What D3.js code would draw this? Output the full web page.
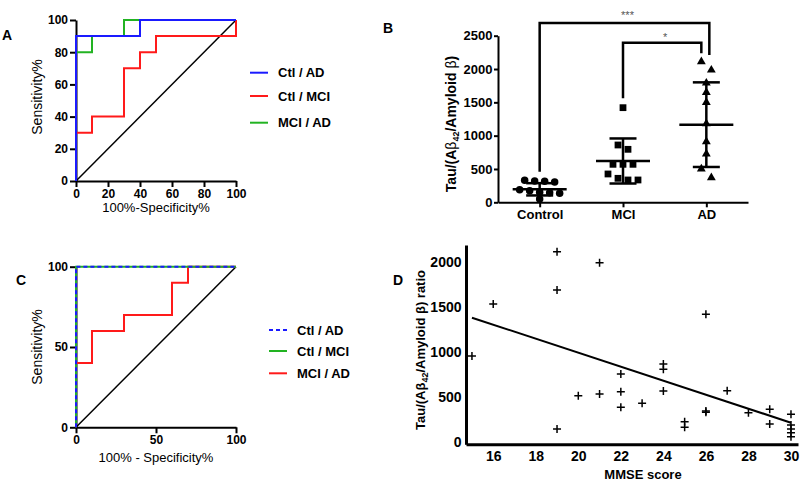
<!DOCTYPE html>
<html lang="en">
<head>
<meta charset="UTF-8">
<title>ROC curves and Tau ratio</title>
<script src="https://d3js.org/d3.v7.min.js"></script>
<style>
  body { margin: 0; background: #fff; }
  svg { display: block; font-family: "Liberation Sans", Arial, sans-serif; }
</style>
</head>
<body>
<svg id="fig" width="800" height="481"></svg>
<script>
// ---- Panel A: ROC steps as [100% - specificity, sensitivity] ----
const rocTicksA = [0, 20, 40, 60, 80, 100];
const aCtlAD  = [[0,0],[0,90],[40,90],[40,100],[100,100]];
const aCtlMCI = [[0,0],[0,30],[10,30],[10,40],[30,40],[30,70],[40,70],[40,80],[50,80],[50,90],[100,90],[100,100]];
const aMCIAD  = [[0,0],[0,80],[10,80],[10,90],[30,90],[30,100],[100,100]];

// ---- Panel C ----
const rocTicksC = [0, 50, 100];
const cCtlAD  = [[0,0],[0,100],[100,100]];
const cCtlMCI = [[0,0],[0,100],[100,100]];
const cMCIAD  = [[0,0],[0,40],[10,40],[10,60],[30,60],[30,70],[60,70],[60,90],[70,90],[70,100],[100,100]];

// ---- Panel B: Tau/(Ab42/Amyloid b) per group ----
const groups = ["Control", "MCI", "AD"];
const controlVals = [330, 320, 315, 305, 190, 175, 150, 145, 135, 50];
const mciVals = [1420, 860, 795, 570, 570, 570, 425, 360, 335, 335];
const adVals = [2110, 1985, 1790, 1650, 1500, 1180, 910, 725, 500, 370];
const groupMean = [195, 620, 1165];
const groupSD = [92, 338, 635];
const bTicks = [0, 500, 1000, 1500, 2000, 2500];
const bracketPairs = [["Control", "AD"], ["MCI", "AD"]];
const bracketLevel = [2690, 2395];
const bracketLegEnds = [[460, 2210], [1560, 2235]];
const bracketLabels = ["***", "*"];

// ---- Panel D: ratio vs MMSE ----
const mmse  = [15, 16, 19, 19, 19, 20, 21, 21, 22, 22, 22, 23, 24, 24, 24, 25, 25, 26, 26, 26, 27, 28, 29, 29, 30, 30, 30, 30, 30];
const ratio = [952, 1530, 2110, 1686, 141, 511, 1990, 530, 752, 556, 382, 426, 863, 804, 563, 222, 160, 1415, 341, 327, 567, 322, 360, 197, 304, 186, 141, 100, 56];
const fitX = [15, 30];
const fitY = [1378, 211];
const dTicksX = [16, 18, 20, 22, 24, 26, 28, 30];
const dTicksY = [0, 500, 1000, 1500, 2000];

const svg = d3.select("#fig");
const plain = d3.format("d");

function styleAxis(g, fontSize, width) {
  g.select(".domain").attr("stroke", "#000").attr("stroke-width", width);
  g.selectAll(".tick line").attr("stroke", "#000").attr("stroke-width", width);
  g.selectAll(".tick text").attr("fill", "#000").attr("font-size", fontSize)
    .attr("font-weight", "bold").attr("font-family", "Liberation Sans, Arial, sans-serif");
}

function panelLetter(t, x, y) {
  svg.append("text").attr("x", x).attr("y", y).attr("font-size", 14)
    .attr("font-weight", "bold").text(t);
}

function rotatedLabel(g, cx, cy) {
  return g.append("text").attr("transform", `translate(${cx},${cy}) rotate(-90)`)
    .attr("text-anchor", "middle").attr("dy", "0.35em");
}

function rocPanel(cfg) {
  const g = svg.append("g");
  const x = d3.scaleLinear().domain([0, 100]).range([cfg.left, cfg.right]);
  const y = d3.scaleLinear().domain([0, 100]).range([cfg.bottom, cfg.top]);
  const line = d3.line().x(d => x(d[0])).y(d => y(d[1]));

  const xa = g.append("g").attr("transform", `translate(0,${cfg.bottom})`)
    .call(d3.axisBottom(x).tickValues(cfg.ticks).tickSize(6).tickSizeOuter(0).tickPadding(2));
  styleAxis(xa, 12, 2);
  const ya = g.append("g").attr("transform", `translate(${cfg.left},0)`)
    .call(d3.axisLeft(y).tickValues(cfg.ticks).tickSize(6).tickSizeOuter(0).tickPadding(2));
  styleAxis(ya, 12, 2);

  g.append("path").attr("d", line([[0, 0], [100, 100]]))
    .attr("fill", "none").attr("stroke", "#000").attr("stroke-width", 1.5);

  cfg.drawOrder.forEach(i => {
    const s = cfg.series[i];
    g.append("path").attr("d", line(s.pts)).attr("fill", "none")
      .attr("stroke", s.color).attr("stroke-width", 2)
      .attr("stroke-dasharray", s.dash || null);
  });

  rotatedLabel(g, 37.5, cfg.yLabelY).attr("font-size", 14).text("Sensitivity%");
  g.append("text").attr("x", (cfg.left + cfg.right) / 2).attr("y", cfg.xLabelY)
    .attr("text-anchor", "middle").attr("font-size", 13).text(cfg.xTitle);

  // legend
  cfg.series.forEach((s, i) => {
    const ly = cfg.legendY[i];
    g.append("line").attr("x1", cfg.legendX).attr("x2", cfg.legendX + 18)
      .attr("y1", ly).attr("y2", ly).attr("stroke", s.color).attr("stroke-width", 2)
      .attr("stroke-dasharray", s.dash || null);
    g.append("text").attr("x", cfg.legendX + 28).attr("y", ly).attr("dy", "0.35em")
      .attr("font-size", 13).attr("font-weight", "bold").text(s.name);
  });
}

const blue = "#1a1aff", red = "#ff1a1a", green = "#22b322";

rocPanel({
  left: 76, right: 236, top: 20, bottom: 181, ticks: rocTicksA,
  series: [
    { name: "Ctl / AD", pts: aCtlAD, color: blue },
    { name: "Ctl / MCI", pts: aCtlMCI, color: red },
    { name: "MCI / AD", pts: aMCIAD, color: green }
  ],
  drawOrder: [1, 2, 0],
  xTitle: "100%-Specificity%", xLabelY: 212, yLabelY: 97,
  legendX: 250, legendY: [72.7, 96, 122.7]
});
panelLetter("A", 2, 40);

rocPanel({
  left: 76, right: 236, top: 266.7, bottom: 427.3, ticks: rocTicksC,
  series: [
    { name: "Ctl / AD", pts: cCtlAD, color: blue, dash: "4,3" },
    { name: "Ctl / MCI", pts: cCtlMCI, color: green },
    { name: "MCI / AD", pts: cMCIAD, color: red }
  ],
  drawOrder: [2, 1, 0],
  xTitle: "100% - Specificity%", xLabelY: 462, yLabelY: 347,
  legendX: 269, legendY: [330, 351, 373.3]
});
panelLetter("C", 16, 285);

// ---- Panel B ----
(function () {
  const g = svg.append("g");
  const x = d3.scalePoint().domain(groups).range([498, 748]).padding(0.5);
  const y = d3.scaleLinear().domain([0, 2500]).range([202.3, 35.7]);

  const xa = g.append("g").attr("transform", "translate(0,202.3)")
    .call(d3.axisBottom(x).tickSize(5).tickSizeOuter(0).tickPadding(2.5));
  styleAxis(xa, 13, 2);
  const ya = g.append("g").attr("transform", "translate(498,0)")
    .call(d3.axisLeft(y).tickValues(bTicks).tickFormat(plain).tickSize(4).tickSizeOuter(0).tickPadding(1.5));
  styleAxis(ya, 13, 2);

  const lab = rotatedLabel(g, 451, 124).attr("font-size", 14).attr("font-weight", "bold");
  lab.append("tspan").text("Tau/(A");
  lab.append("tspan").attr("font-weight", "normal").text("β");
  lab.append("tspan").attr("font-size", 9).attr("dy", 3).text("42");
  lab.append("tspan").attr("dy", -3).text("/Amyloid ");
  lab.append("tspan").attr("font-weight", "normal").text("β");
  lab.append("tspan").text(")");

  // rows of near-equal values are spread side by side, like a scatter dot plot
  function spread(vals) {
    const sorted = vals.slice().sort((a, b) => b - a);
    const rows = [];
    sorted.forEach(v => {
      const last = rows[rows.length - 1];
      if (last && y(v) - y(last[0]) < 9) last.push(v); else rows.push([v]);
    });
    const out = [];
    rows.forEach(r => r.forEach((v, i) => out.push({ v, off: (i - (r.length - 1) / 2) * 10 })));
    return out;
  }

  const symbols = [d3.symbolCircle, d3.symbolSquare, d3.symbolTriangle];
  const sizes = [44, 46, 34];
  [controlVals, mciVals, adVals].forEach((vals, gi) => {
    const cx = x(groups[gi]);
    g.selectAll(null).data(spread(vals)).join("path")
      .attr("d", d3.symbol(symbols[gi], sizes[gi]))
      .attr("transform", d => `translate(${cx + d.off},${y(d.v)})`)
      .attr("fill", "#000");

    const m = groupMean[gi], s = groupSD[gi];
    g.append("line").attr("x1", cx).attr("x2", cx).attr("y1", y(m - s)).attr("y2", y(m + s))
      .attr("stroke", "#000").attr("stroke-width", 2.5);
    [m - s, m + s].forEach(v => g.append("line").attr("x1", cx - 13.5).attr("x2", cx + 13.5)
      .attr("y1", y(v)).attr("y2", y(v)).attr("stroke", "#000").attr("stroke-width", 2.5));
    g.append("line").attr("x1", cx - 27).attr("x2", cx + 27).attr("y1", y(m)).attr("y2", y(m))
      .attr("stroke", "#000").attr("stroke-width", 2.5);
  });

  const rightShift = [3, -5];
  bracketPairs.forEach((p, i) => {
    const xa0 = x(p[0]), xa1 = x(p[1]) + rightShift[i];
    const ly = y(bracketLevel[i]);
    g.append("path")
      .attr("d", `M${xa0},${y(bracketLegEnds[i][0])}V${ly}H${xa1}V${y(bracketLegEnds[i][1])}`)
      .attr("fill", "none").attr("stroke", "#000").attr("stroke-width", 2.5);
    g.append("text").attr("x", (xa0 + xa1) / 2 + 3).attr("y", ly - 3 - (i === 0 ? 1 : -1))
      .attr("text-anchor", "middle").attr("font-size", 11).attr("fill", "#555")
      .text(bracketLabels[i]);
  });
})();
panelLetter("B", 383, 33);

// ---- Panel D ----
(function () {
  const g = svg.append("g");
  const x = d3.scaleLinear().domain([14.72, 30.33]).range([466, 798]);
  const y = d3.scaleLinear().domain([-29, 2186]).range([444.3, 245]);

  const xa = g.append("g").attr("transform", "translate(0,444.3)")
    .call(d3.axisBottom(x).tickValues(dTicksX).tickSize(0).tickSizeOuter(0).tickPadding(7));
  styleAxis(xa, 14, 3);
  const ya = g.append("g").attr("transform", "translate(466,0)")
    .call(d3.axisLeft(y).tickValues(dTicksY).tickFormat(plain).tickSize(0).tickSizeOuter(0).tickPadding(4.5));
  styleAxis(ya, 14, 3);

  g.append("path").attr("d", d3.line().x(d => x(d[0])).y(d => y(d[1]))(d3.zip(fitX, fitY)))
    .attr("stroke", "#000").attr("stroke-width", 2).attr("fill", "none");

  g.selectAll(null).data(d3.zip(mmse, ratio)).join("path")
    .attr("d", "M-4,0H4M0,-4V4")
    .attr("transform", d => `translate(${x(d[0])},${y(d[1])})`)
    .attr("stroke", "#000").attr("stroke-width", 1.5);

  g.append("text").attr("x", 643).attr("y", 479).attr("text-anchor", "middle")
    .attr("font-size", 13).attr("font-weight", "bold").text("MMSE score");

  const lab = rotatedLabel(g, 420, 350).attr("font-size", 13).attr("font-weight", "bold");
  lab.append("tspan").text("Tau/(Aβ");
  lab.append("tspan").attr("font-size", 9).attr("dy", 3).text("42");
  lab.append("tspan").attr("dy", -3).text("/Amyloid β) ratio");
})();
panelLetter("D", 393, 285);
</script>
</body>
</html>
